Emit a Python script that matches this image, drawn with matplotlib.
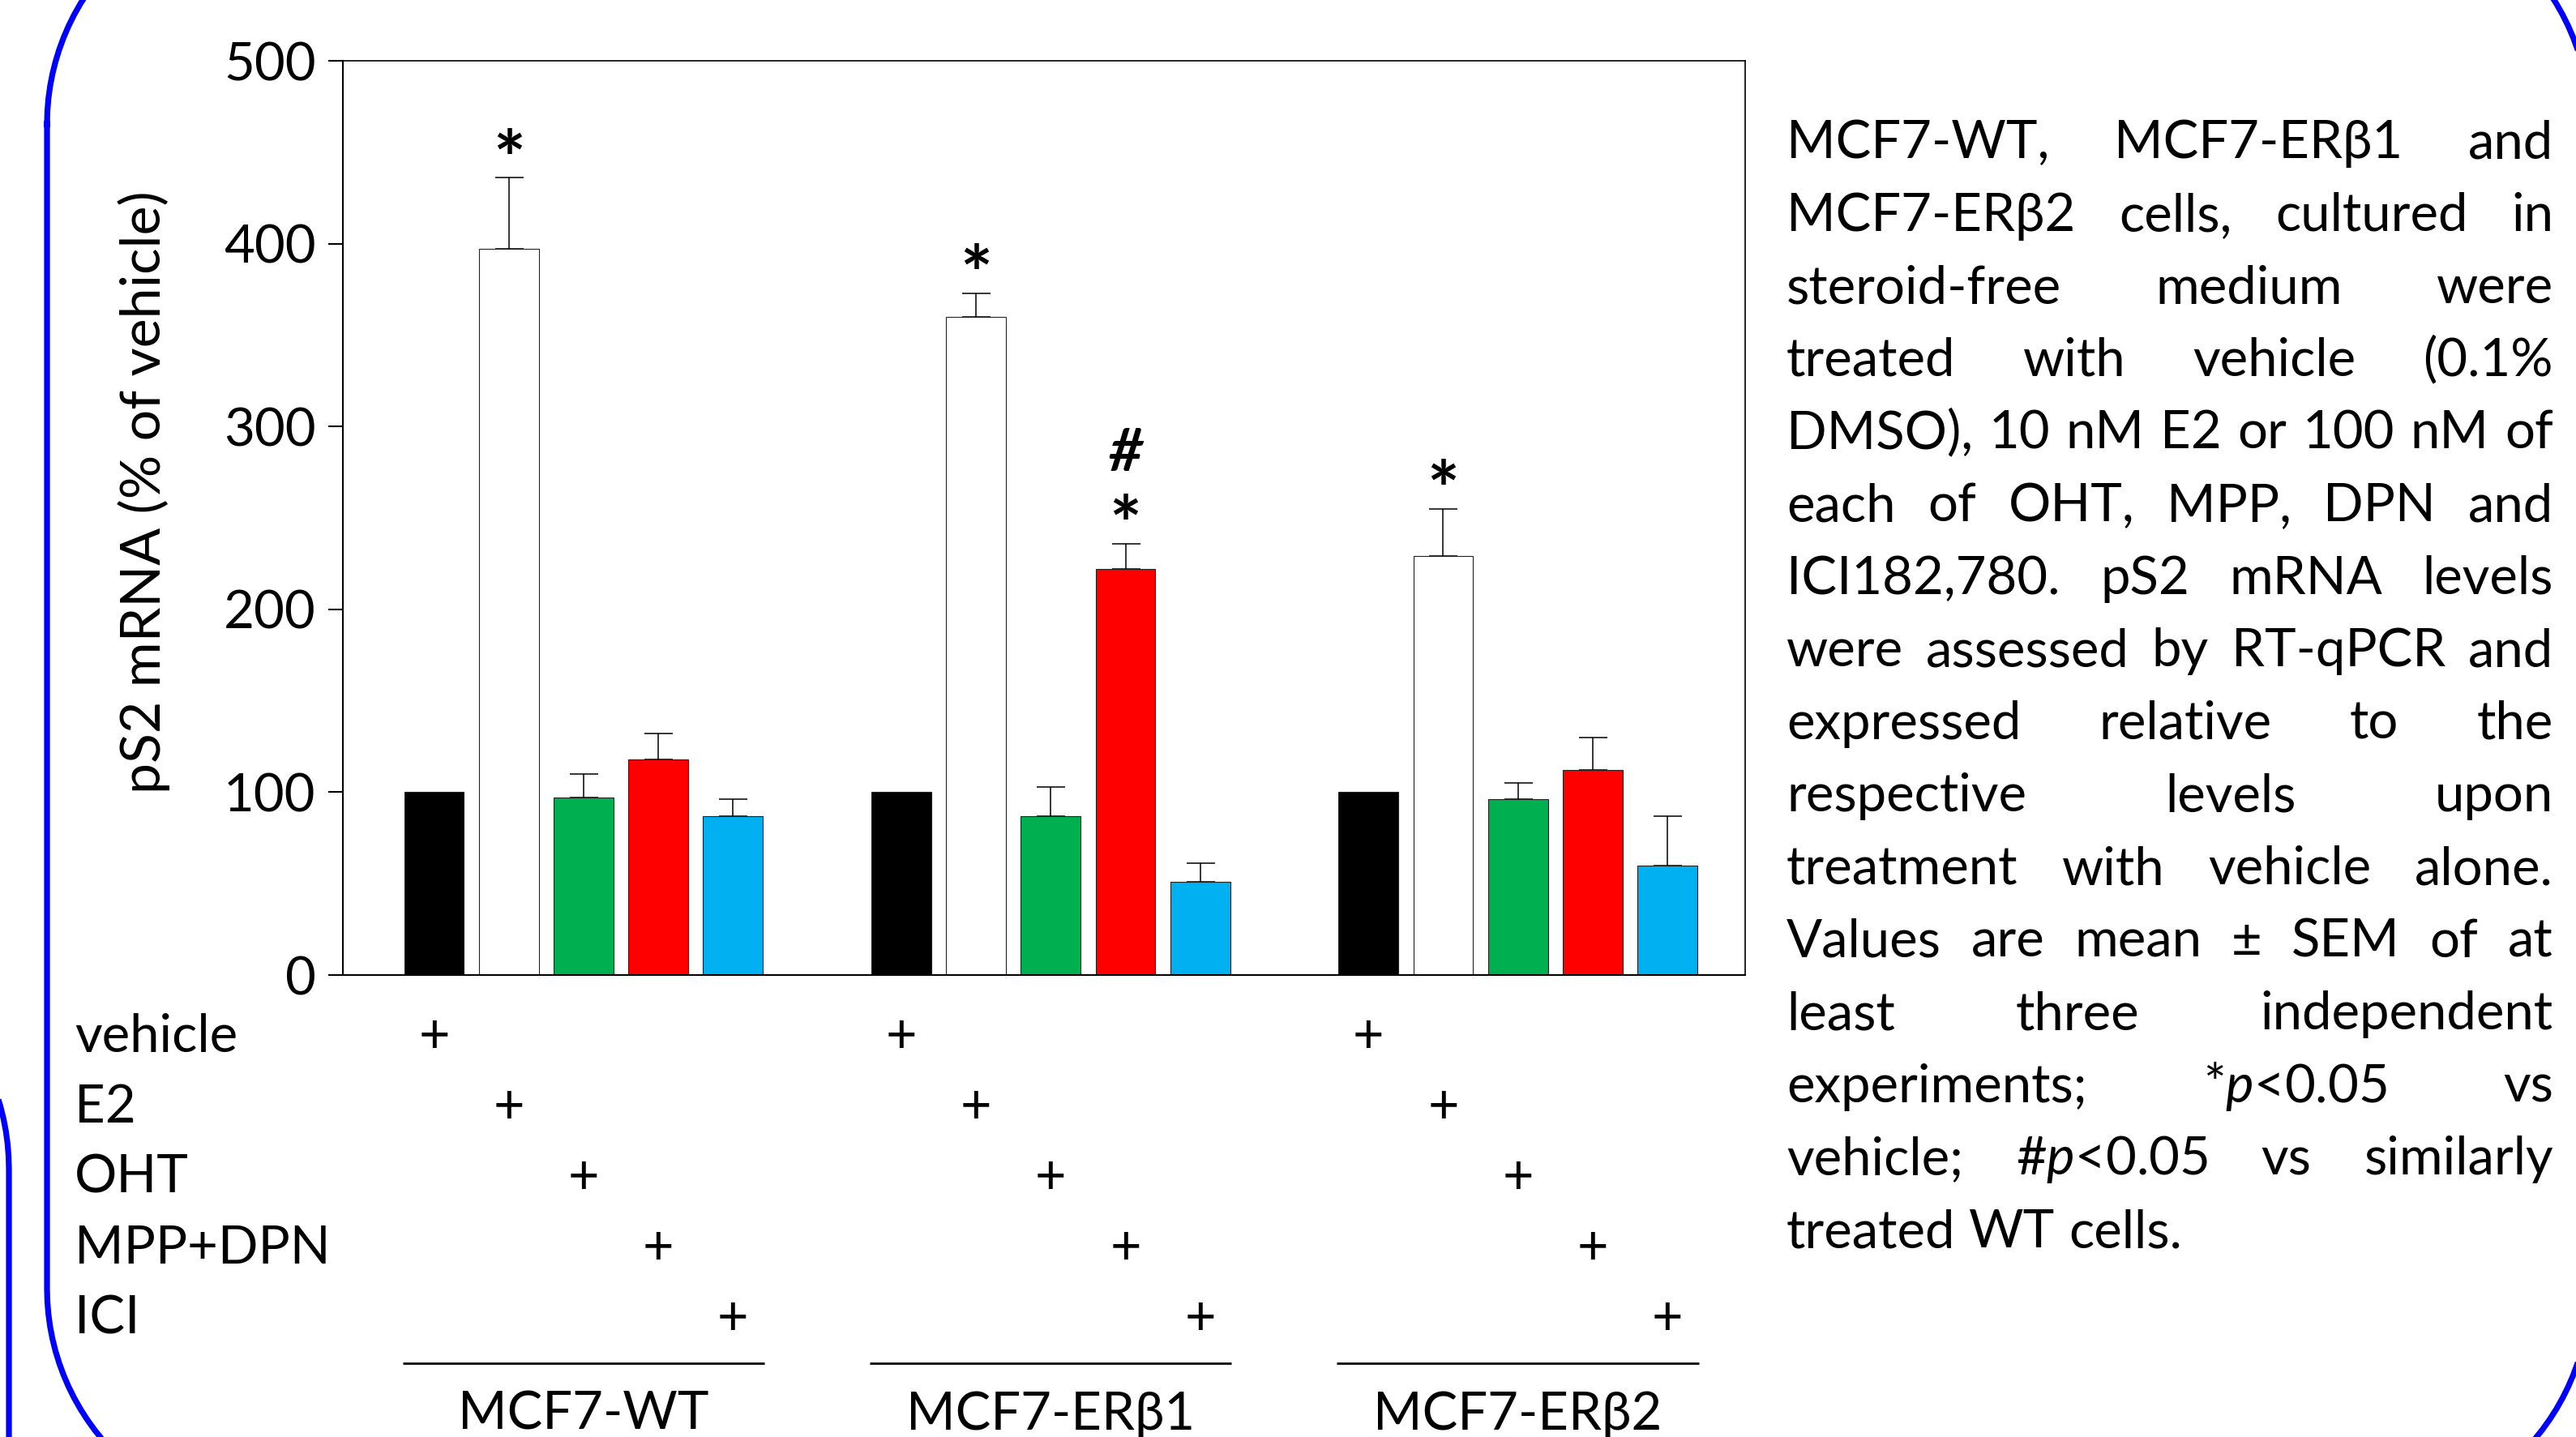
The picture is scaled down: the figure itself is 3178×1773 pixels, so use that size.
import numpy as np
import matplotlib
matplotlib.use('Agg')
import matplotlib.pyplot as plt
from matplotlib.transforms import blended_transform_factory
from matplotlib.textpath import TextPath
from matplotlib.font_manager import FontProperties

plt.rcParams['font.family'] = ['Lato', 'DejaVu Sans']
plt.rcParams['mathtext.fontset'] = 'custom'
plt.rcParams['mathtext.rm'] = 'Lato'
plt.rcParams['mathtext.it'] = 'Lato:italic'

# data
cell_lines = ['MCF7-WT', 'MCF7-ERβ1', 'MCF7-ERβ2']
treatments = ['vehicle', 'E2', 'OHT', 'MPP+DPN', 'ICI']
bar_colors = ['#000000', '#FFFFFF', '#00B050', '#FF0000', '#00B0F0']
means_wt = [100, 397, 97, 118, 87]
means_b1 = [100, 360, 87, 222, 51]
means_b2 = [100, 229, 96, 112, 60]
sem_wt = [0, 39, 13, 14, 9]
sem_b1 = [0, 13, 16, 14, 10]
sem_b2 = [0, 26, 9, 18, 27]
means = [means_wt, means_b1, means_b2]
sems = [sem_wt, sem_b1, sem_b2]
# significance marks: (cell line index, treatment index, marks bottom-up)
marks = [(0, 1, ['*']), (1, 1, ['*']), (1, 3, ['*', '#']), (2, 1, ['*'])]

caption_lines = [
    'MCF7-WT, MCF7-ERβ1 and',
    'MCF7-ERβ2 cells, cultured in',
    'steroid-free medium were',
    'treated with vehicle (0.1%',
    'DMSO), 10 nM E2 or 100 nM of',
    'each of OHT, MPP, DPN and',
    'ICI182,780. pS2 mRNA levels',
    'were assessed by RT-qPCR and',
    'expressed relative to the',
    'respective levels upon',
    'treatment with vehicle alone.',
    'Values are mean ± SEM of at',
    'least three independent',
    'experiments; *$p$<0.05 vs',
    'vehicle; #$p$<0.05 vs similarly',
    'treated WT cells.',
]

W, H = 3178, 1773
FS = 47
PX = 100 / 72  # px per point


def glyph_mid(s, prop):
    ext = TextPath((0, 0), s, prop=prop).get_extents()
    return (ext.y0 + ext.y1) / 2


def glyph_height(s, prop):
    ext = TextPath((0, 0), s, prop=prop).get_extents()
    return ext.y1 - ext.y0


def rounded_frame(x0, y0, x1, y1, r):
    # outline of a rounded rectangle in pixel coords (y down)
    xs, ys = [], []
    corners = [(x0 + r, y0 + r, 180), (x1 - r, y0 + r, 270),
               (x1 - r, y1 - r, 0), (x0 + r, y1 - r, 90)]
    for cx, cy, a in corners:
        t = np.radians(np.linspace(a, a + 90, 30))
        xs.extend(cx + r * np.cos(t))
        ys.extend(cy + r * np.sin(t))
    xs.append(xs[0])
    ys.append(ys[0])
    return xs, ys


fig = plt.figure(figsize=(W / 100, H / 100), dpi=100)
bg = fig.add_axes([0, 0, 1, 1])
bg.set_xlim(0, W)
bg.set_ylim(H, 0)
bg.axis('off')

# blue rounded frames
fx, fy = rounded_frame(58, -135, 3195, 1878, 288)
bg.plot(fx, fy, color='#0000FF', lw=5.2)
fx, fy = rounded_frame(-1000, 1154, 11, 3000, 288)
bg.plot(fx, fy, color='#0000FF', lw=5.2)

ax = fig.add_axes([423 / W, 1 - 1203 / H, (2153 - 423) / W, (1203 - 75) / H])
group_gap = 6.25
for g in range(3):
    x = g * group_gap + np.arange(len(treatments))
    m = np.array(means[g], dtype=float)
    e = np.array(sems[g], dtype=float)
    ax.bar(x, m, width=0.8, color=bar_colors, edgecolor='#222222',
           linewidth=0.8, zorder=2)
    k = e > 0
    ax.errorbar(x[k], m[k], yerr=[np.zeros(k.sum()), e[k]], fmt='none',
                ecolor='black', elinewidth=1.1, capsize=12.6, capthick=1.1,
                zorder=1)

ax.set_xlim(-1.22, 17.54)
ax.set_ylim(0, 500)
ax.set_yticks(range(0, 501, 100))
ax.set_xticks([])
ax.tick_params(axis='y', length=13, width=1.5, pad=11, labelsize=FS)
for s in ax.spines.values():
    s.set_linewidth(1.2)
ax.spines['left'].set_linewidth(1.5)
ax.spines['bottom'].set_linewidth(1.5)

# significance marks
star_prop = FontProperties(family='Lato', weight='bold', size=10)
star_fs = 32 / PX / glyph_height('*', star_prop) * 10
hash_prop = FontProperties(family='Lato', weight='bold', style='italic', size=10)
hash_fs = 53 / PX / glyph_height('#', hash_prop) * 10
for g, i, sym in marks:
    xc = g * group_gap + i
    yc = means[g][i] + sems[g][i] + 20.5
    for s in sym:
        if s == '*':
            prop = FontProperties(family='Lato', weight='bold', size=star_fs)
        else:
            prop = FontProperties(family='Lato', weight='bold', style='italic', size=hash_fs)
        ax.annotate(s, xy=(xc, yc), xytext=(0, -glyph_mid(s, prop)),
                    textcoords='offset points', ha='center', va='baseline',
                    fontproperties=prop, annotation_clip=False)
        yc += 31

# treatment rows below the axis
bl = blended_transform_factory(ax.transData, bg.transData)
plus_prop = FontProperties(family='Lato', size=10)
plus_fs = 33 / PX / glyph_height('+', plus_prop) * 10
plus_prop = FontProperties(family='Lato', size=plus_fs)
plus_mid = glyph_mid('+', plus_prop) * PX
for i, name in enumerate(treatments):
    bg.text(92, 1298 + 87 * i, name, fontsize=FS, va='baseline', ha='left')
    for g in range(3):
        bg.text(g * group_gap + i, 1277 + 87 * i + plus_mid, '+',
                transform=bl, ha='center', va='baseline',
                fontproperties=plus_prop)

for g, name in enumerate(cell_lines):
    x0 = g * group_gap - 0.42
    x1 = g * group_gap + 4.42
    bg.plot([x0, x1], [1682, 1682], color='black', lw=2, transform=bl,
            solid_capstyle='butt')
    bg.text(g * group_gap + 2, 1764, name, transform=bl, fontsize=FS,
            ha='center', va='baseline')

bg.text(178, 607, 'pS2 mRNA (% of vehicle)', rotation=90, fontsize=FS + 2,
        ha='center', va='center')

# justified caption
renderer = fig.canvas.get_renderer()
left, right = 2204, 3150
cap_fs = FS
probe = bg.text(0, 0, '', fontsize=cap_fs)
widest = 0
for line in caption_lines:
    probe.set_text(line)
    widest = max(widest, probe.get_window_extent(renderer).width)
if widest > right - left:
    cap_fs = cap_fs * (right - left) / widest
probe.set_fontsize(cap_fs)
probe.set_text('a a')
w2 = probe.get_window_extent(renderer).width
probe.set_text('aa')
space = w2 - probe.get_window_extent(renderer).width
probe.remove()

for k, line in enumerate(caption_lines):
    y = 195 + 89.6 * k
    words = line.split(' ')
    ts = [bg.text(0, y, w, fontsize=cap_fs, va='baseline', ha='left') for w in words]
    ws = [t.get_window_extent(renderer).width for t in ts]
    if k < len(caption_lines) - 1 and len(words) > 1:
        gap = (right - left - sum(ws)) / (len(words) - 1)
    else:
        gap = space
    x = left
    for t, w in zip(ts, ws):
        t.set_x(x)
        x += w + gap

fig.savefig('out.png', dpi=100)
